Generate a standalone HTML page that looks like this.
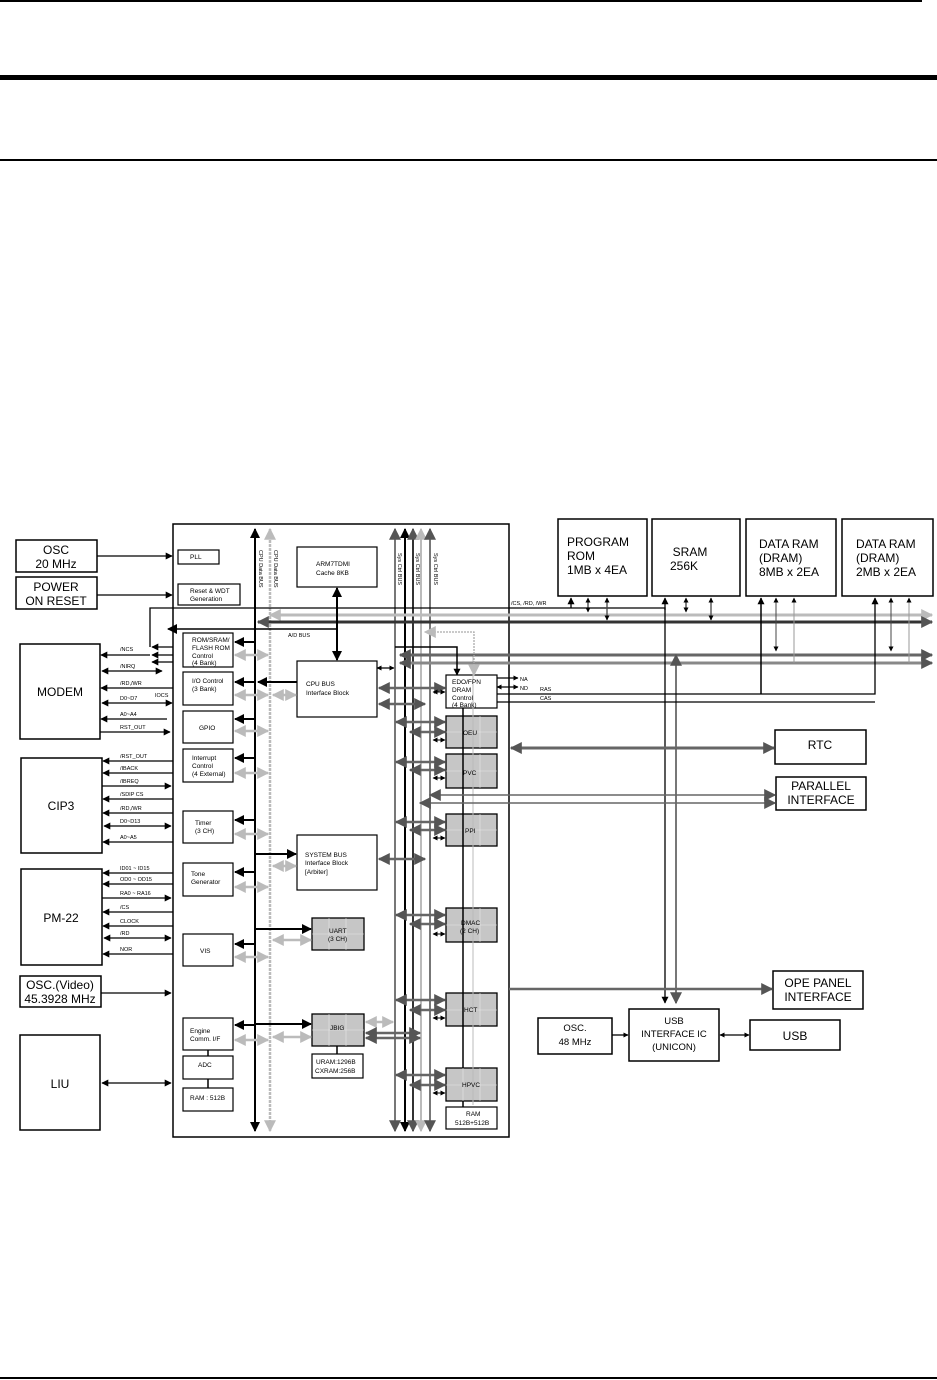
<!DOCTYPE html>
<html><head><meta charset="utf-8"><style>
html,body{margin:0;padding:0;background:#fff}
svg{display:block}
text{font-family:"Liberation Sans",sans-serif}
.b{font-size:12px}
.s{font-size:6.5px}
.m{font-size:5.5px}
</style></head><body>
<svg width="937" height="1380" viewBox="0 0 937 1380" xmlns="http://www.w3.org/2000/svg">
<defs>
<marker id="a" viewBox="0 0 10 10" refX="9" refY="5" markerWidth="7" markerHeight="7" orient="auto-start-reverse" markerUnits="userSpaceOnUse"><path d="M0,0L10,5L0,10z" fill="#000"/></marker>
<marker id="sa" viewBox="0 0 10 10" refX="9" refY="5" markerWidth="5" markerHeight="5" orient="auto-start-reverse" markerUnits="userSpaceOnUse"><path d="M0,0L10,5L0,10z" fill="#000"/></marker>
<marker id="ba" viewBox="0 0 10 10" refX="9" refY="5" markerWidth="10" markerHeight="10" orient="auto-start-reverse" markerUnits="userSpaceOnUse"><path d="M0,0L10,5L0,10z" fill="#000"/></marker>
<marker id="ga" viewBox="0 0 10 10" refX="9" refY="5" markerWidth="12" markerHeight="12" orient="auto-start-reverse" markerUnits="userSpaceOnUse"><path d="M0,0L10,5L0,10z" fill="#555"/></marker>
<marker id="la" viewBox="0 0 10 10" refX="9" refY="5" markerWidth="12" markerHeight="12" orient="auto-start-reverse" markerUnits="userSpaceOnUse"><path d="M0,0L10,5L0,10z" fill="#bbb"/></marker>
</defs>

<rect x="0" y="0" width="922" height="2" fill="#000"/>
<rect x="0" y="75" width="937" height="5" fill="#000"/>
<rect x="0" y="159" width="937" height="2" fill="#000"/>
<rect x="0" y="1377" width="937" height="2" fill="#000"/>

<g fill="none" stroke="#000">
<rect x="16" y="540" width="81" height="32" stroke-width="1.5"/>
<rect x="16" y="577" width="81" height="32" stroke-width="1.5"/>
<rect x="20" y="644" width="80" height="95" stroke-width="1.5"/>
<rect x="21" y="758" width="81" height="95" stroke-width="1.5"/>
<rect x="21" y="869" width="81" height="96" stroke-width="1.5"/>
<rect x="20" y="976" width="81" height="31" stroke-width="1.5"/>
<rect x="20" y="1035" width="80" height="95" stroke-width="1.5"/>
<rect x="173" y="524" width="336" height="613" stroke-width="1.5"/>
<rect x="558" y="519" width="89" height="77" stroke-width="1.5"/>
<rect x="652" y="519" width="88" height="77" stroke-width="1.5"/>
<rect x="746" y="519" width="90" height="77" stroke-width="1.5"/>
<rect x="842" y="519" width="91" height="77" stroke-width="1.5"/>
<rect x="775" y="730" width="91" height="34" stroke-width="1.5"/>
<rect x="776" y="777" width="90" height="33" stroke-width="1.5"/>
<rect x="773" y="971" width="90" height="38" stroke-width="1.5"/>
<rect x="629" y="1009" width="90" height="52" stroke-width="1.5"/>
<rect x="538" y="1018" width="74" height="36" stroke-width="1.5"/>
<rect x="750" y="1020" width="90" height="30" stroke-width="1.5"/>
<rect x="178" y="550" width="41" height="14" stroke-width="1.2"/>
<rect x="178" y="584" width="62" height="21" stroke-width="1.2"/>
<rect x="297" y="547" width="80" height="40" stroke-width="1.2"/>
<rect x="183" y="633" width="50" height="34" stroke-width="1.2"/>
<rect x="183" y="672" width="50" height="33" stroke-width="1.2"/>
<rect x="183" y="711" width="50" height="32" stroke-width="1.2"/>
<rect x="183" y="749" width="50" height="33" stroke-width="1.2"/>
<rect x="183" y="811" width="50" height="32" stroke-width="1.2"/>
<rect x="183" y="863" width="50" height="33" stroke-width="1.2"/>
<rect x="183" y="934" width="50" height="32" stroke-width="1.2"/>
<rect x="183" y="1018" width="50" height="32" stroke-width="1.2"/>
<rect x="183" y="1056" width="50" height="23" stroke-width="1.2"/>
<rect x="183" y="1088" width="50" height="23" stroke-width="1.2"/>
<rect x="297" y="661" width="80" height="56" stroke-width="1.2"/>
<rect x="297" y="835" width="80" height="55" stroke-width="1.2"/>
<rect x="312" y="1054" width="51" height="24" stroke-width="1.2"/>
<rect x="446" y="675" width="51" height="33" stroke-width="1.2"/>
<rect x="446" y="1107" width="51" height="22" stroke-width="1.2"/>
</g>
<g stroke="#000" stroke-width="1.3" fill="#c6c6c6">
<rect x="312" y="918" width="52" height="32"/>
<rect x="312" y="1014" width="52" height="32"/>
<rect x="446" y="716" width="51" height="32"/>
<rect x="446" y="754" width="51" height="34"/>
<rect x="446" y="814" width="51" height="32"/>
<rect x="446" y="908" width="51" height="34"/>
<rect x="446" y="993" width="51" height="33"/>
<rect x="446" y="1068" width="51" height="33"/>
</g>
<g stroke="#e8e8e8" stroke-width="0.6">
<path d="M329 918v32M346 918v32M312 934h52M329 1014v32M346 1014v32M312 1030h52"/>
<path d="M463 716v32M480 716v32M446 732h51M463 754v34M480 754v34M446 771h51M463 814v32M480 814v32M446 830h51M463 908v34M480 908v34M446 925h51M463 993v33M480 993v33M446 1010h51M463 1068v33M480 1068v33M446 1085h51"/>
</g>

<path d="M463 708v360M463 1101v6M337 1046v8M208 1050v6M208 1079v9" stroke="#000" stroke-width="1.5" fill="none"/>
<path d="M473 655v450" stroke="#bbb" stroke-width="1" fill="none"/>

<line x1="255" y1="1131" x2="255" y2="529" stroke="#000" stroke-width="2" marker-end="url(#ba)" marker-start="url(#ba)"/>
<line x1="270" y1="1131" x2="270" y2="529" stroke="#bbb" stroke-width="2.5" stroke-dasharray="3 1" marker-end="url(#la)" marker-start="url(#la)"/>
<line x1="395" y1="1131" x2="395" y2="529" stroke="#777" stroke-width="2" marker-end="url(#ga)" marker-start="url(#ga)"/>
<line x1="405" y1="1131" x2="405" y2="529" stroke="#000" stroke-width="2" marker-end="url(#ba)" marker-start="url(#ba)"/>
<line x1="413" y1="1131" x2="413" y2="529" stroke="#333" stroke-width="2" marker-end="url(#ga)" marker-start="url(#ga)"/>
<line x1="421" y1="1131" x2="421" y2="529" stroke="#bbb" stroke-width="2" marker-end="url(#la)" marker-start="url(#la)"/>
<line x1="430" y1="1131" x2="430" y2="529" stroke="#777" stroke-width="2" marker-end="url(#ga)" marker-start="url(#ga)"/>

<line x1="270" y1="615" x2="932" y2="615" stroke="#bbb" stroke-width="3" marker-end="url(#la)" marker-start="url(#la)"/>
<line x1="258" y1="622" x2="932" y2="622" stroke="#333" stroke-width="3" marker-end="url(#ga)" marker-start="url(#ga)"/>
<line x1="337" y1="629" x2="168" y2="629" stroke="#000" stroke-width="1.5" marker-end="url(#ba)"/>
<line x1="400" y1="655" x2="932" y2="655" stroke="#666" stroke-width="3" marker-end="url(#ga)" marker-start="url(#ga)"/>
<line x1="400" y1="663" x2="932" y2="663" stroke="#888" stroke-width="3" marker-end="url(#ga)" marker-start="url(#ga)"/>
<path d="M150 647V608H665V1003" stroke="#000" stroke-width="1.3" fill="none" marker-end="url(#a)"/>
<line x1="665" y1="610" x2="665" y2="598" stroke="#000" stroke-width="1.3" marker-end="url(#a)"/>
<line x1="676" y1="1003" x2="676" y2="655" stroke="#777" stroke-width="2" marker-start="url(#ga)" marker-end="url(#ga)"/>
<line x1="571" y1="608" x2="571" y2="598" stroke="#000" stroke-width="1.3" marker-end="url(#a)"/>
<line x1="588" y1="612" x2="588" y2="598" stroke="#000" stroke-width="1" marker-end="url(#sa)" marker-start="url(#sa)"/>
<line x1="607" y1="620" x2="607" y2="598" stroke="#444" stroke-width="1.3" marker-end="url(#sa)" marker-start="url(#sa)"/>
<line x1="686" y1="612" x2="686" y2="598" stroke="#000" stroke-width="1" marker-end="url(#sa)" marker-start="url(#sa)"/>
<line x1="711" y1="620" x2="711" y2="598" stroke="#444" stroke-width="1.3" marker-end="url(#sa)" marker-start="url(#sa)"/>
<line x1="776" y1="651" x2="776" y2="598" stroke="#444" stroke-width="1" marker-end="url(#sa)" marker-start="url(#sa)"/>
<line x1="794" y1="663" x2="794" y2="598" stroke="#999" stroke-width="1" marker-end="url(#sa)"/>
<line x1="891" y1="651" x2="891" y2="598" stroke="#444" stroke-width="1" marker-end="url(#sa)" marker-start="url(#sa)"/>
<line x1="909" y1="663" x2="909" y2="598" stroke="#999" stroke-width="1" marker-end="url(#sa)"/>
<path d="M395 647H457V675" stroke="#000" stroke-width="1.5" fill="none" marker-end="url(#a)"/>
<path d="M474 675V632H425" stroke="#aaa" stroke-width="1.3" stroke-dasharray="2 1" fill="none" marker-end="url(#la)" marker-start="url(#la)"/>
<line x1="497" y1="678" x2="518" y2="678" stroke="#000" stroke-width="1.3" marker-end="url(#sa)"/>
<line x1="497" y1="687" x2="518" y2="687" stroke="#000" stroke-width="1.3" marker-end="url(#sa)" marker-start="url(#sa)"/>
<path d="M497 694H875V598" stroke="#000" stroke-width="1.3" fill="none" marker-end="url(#a)"/>
<path d="M497 702H875" stroke="#000" stroke-width="1.3" fill="none"/>
<line x1="761" y1="694" x2="761" y2="598" stroke="#000" stroke-width="1.5" marker-end="url(#a)"/>
<line x1="337" y1="588" x2="337" y2="660" stroke="#000" stroke-width="2" marker-end="url(#ba)" marker-start="url(#ba)"/>
<g stroke="#000" stroke-width="1.3" fill="none">
<line x1="97" y1="556" x2="172" y2="556" marker-end="url(#a)"/>
<line x1="97" y1="595" x2="172" y2="595" marker-end="url(#a)"/>
<line x1="173" y1="647" x2="152" y2="647" marker-end="url(#a)"/>
<line x1="173" y1="655" x2="152" y2="655" marker-end="url(#a)"/>
<line x1="173" y1="662" x2="152" y2="662" marker-end="url(#a)"/>
<line x1="150" y1="655" x2="101" y2="655" marker-end="url(#a)"/>
<line x1="102" y1="671" x2="162" y2="671" marker-end="url(#a)" marker-start="url(#a)"/>
<line x1="173" y1="688" x2="101" y2="688" marker-end="url(#a)"/>
<line x1="102" y1="703" x2="172" y2="703" marker-end="url(#a)" marker-start="url(#a)"/>
<line x1="167" y1="719" x2="101" y2="719" marker-end="url(#a)"/>
<line x1="100" y1="732" x2="170" y2="732" marker-end="url(#a)"/>
<line x1="173" y1="761" x2="103" y2="761" marker-end="url(#a)"/>
<line x1="173" y1="773" x2="103" y2="773" marker-end="url(#a)"/>
<line x1="102" y1="786" x2="171" y2="786" marker-end="url(#a)"/>
<line x1="173" y1="799" x2="103" y2="799" marker-end="url(#a)"/>
<line x1="173" y1="813" x2="103" y2="813" marker-end="url(#a)"/>
<line x1="104" y1="826" x2="171" y2="826" marker-end="url(#a)" marker-start="url(#a)"/>
<line x1="173" y1="842" x2="103" y2="842" marker-end="url(#a)"/>
<line x1="173" y1="873" x2="103" y2="873" marker-end="url(#a)"/>
<line x1="173" y1="884" x2="103" y2="884" marker-end="url(#a)"/>
<line x1="102" y1="898" x2="171" y2="898" marker-end="url(#a)"/>
<line x1="173" y1="912" x2="103" y2="912" marker-end="url(#a)"/>
<line x1="173" y1="926" x2="103" y2="926" marker-end="url(#a)"/>
<line x1="104" y1="938" x2="171" y2="938" marker-end="url(#a)" marker-start="url(#a)"/>
<line x1="173" y1="954" x2="103" y2="954" marker-end="url(#a)"/>
<line x1="101" y1="993" x2="171" y2="993" marker-end="url(#a)"/>
<line x1="102" y1="1083" x2="171" y2="1083" marker-end="url(#a)" marker-start="url(#a)"/>
<line x1="612" y1="1035" x2="628" y2="1035" marker-end="url(#sa)"/>
<line x1="720" y1="1035" x2="749" y2="1035" marker-end="url(#sa)" marker-start="url(#sa)"/>
<line x1="377" y1="668" x2="394" y2="668" marker-end="url(#sa)" marker-start="url(#sa)"/>
</g>
<g stroke="#000" stroke-width="2" fill="none">
<line x1="255" y1="642" x2="235" y2="642" marker-end="url(#ba)"/>
<line x1="255" y1="682" x2="235" y2="682" marker-end="url(#ba)"/>
<line x1="297" y1="682" x2="258" y2="682" marker-end="url(#ba)"/>
<line x1="255" y1="719" x2="235" y2="719" marker-end="url(#ba)"/>
<line x1="255" y1="758" x2="235" y2="758" marker-end="url(#ba)"/>
<line x1="255" y1="820" x2="235" y2="820" marker-end="url(#ba)"/>
<line x1="255" y1="872" x2="235" y2="872" marker-end="url(#ba)"/>
<line x1="255" y1="944" x2="235" y2="944" marker-end="url(#ba)"/>
<line x1="255" y1="1025" x2="235" y2="1025" marker-end="url(#ba)"/>
<line x1="255" y1="854" x2="296" y2="854" marker-end="url(#ba)"/>
<line x1="255" y1="929" x2="311" y2="929" marker-end="url(#ba)"/>
<line x1="255" y1="1024" x2="311" y2="1024" marker-end="url(#ba)"/>
</g>
<g stroke="#bbb" stroke-width="2.5" fill="none">
<line x1="235" y1="655" x2="268" y2="655" marker-end="url(#la)" marker-start="url(#la)"/>
<line x1="235" y1="695" x2="268" y2="695" marker-end="url(#la)" marker-start="url(#la)"/>
<line x1="273" y1="695" x2="296" y2="695" marker-end="url(#la)" marker-start="url(#la)"/>
<line x1="235" y1="731" x2="268" y2="731" marker-end="url(#la)" marker-start="url(#la)"/>
<line x1="235" y1="773" x2="268" y2="773" marker-end="url(#la)" marker-start="url(#la)"/>
<line x1="235" y1="834" x2="268" y2="834" marker-end="url(#la)" marker-start="url(#la)"/>
<line x1="273" y1="866" x2="296" y2="866" marker-end="url(#la)" marker-start="url(#la)"/>
<line x1="235" y1="887" x2="268" y2="887" marker-end="url(#la)" marker-start="url(#la)"/>
<line x1="273" y1="940" x2="311" y2="940" marker-end="url(#la)" marker-start="url(#la)"/>
<line x1="235" y1="957" x2="268" y2="957" marker-end="url(#la)" marker-start="url(#la)"/>
<line x1="235" y1="1040" x2="268" y2="1040" marker-end="url(#la)" marker-start="url(#la)"/>
<line x1="273" y1="1037" x2="311" y2="1037" marker-end="url(#la)" marker-start="url(#la)"/>
<line x1="366" y1="1022" x2="393" y2="1022" marker-end="url(#la)" marker-start="url(#la)"/>
</g>
<g stroke="#666" stroke-width="2.5" fill="none">
<line x1="379" y1="688" x2="445" y2="688" marker-end="url(#ga)" marker-start="url(#ga)"/>
<line x1="379" y1="704" x2="425" y2="704" marker-end="url(#ga)" marker-start="url(#ga)"/>
<line x1="379" y1="859" x2="425" y2="859" marker-end="url(#ga)" marker-start="url(#ga)"/>
<line x1="366" y1="1033" x2="420" y2="1033" marker-end="url(#ga)" marker-start="url(#ga)"/>
<line x1="366" y1="1038" x2="420" y2="1038" marker-end="url(#ga)" marker-start="url(#ga)"/>
<line x1="396" y1="722" x2="445" y2="722" marker-end="url(#ga)" marker-start="url(#ga)"/>
<line x1="410" y1="732" x2="445" y2="732" marker-end="url(#ga)" marker-start="url(#ga)"/>
<line x1="396" y1="762" x2="445" y2="762" marker-end="url(#ga)" marker-start="url(#ga)"/>
<line x1="410" y1="770" x2="445" y2="770" marker-end="url(#ga)" marker-start="url(#ga)"/>
<line x1="396" y1="822" x2="445" y2="822" marker-end="url(#ga)" marker-start="url(#ga)"/>
<line x1="410" y1="830" x2="445" y2="830" marker-end="url(#ga)" marker-start="url(#ga)"/>
<line x1="396" y1="915" x2="445" y2="915" marker-end="url(#ga)" marker-start="url(#ga)"/>
<line x1="410" y1="924" x2="445" y2="924" marker-end="url(#ga)" marker-start="url(#ga)"/>
<line x1="396" y1="1000" x2="445" y2="1000" marker-end="url(#ga)" marker-start="url(#ga)"/>
<line x1="410" y1="1010" x2="445" y2="1010" marker-end="url(#ga)" marker-start="url(#ga)"/>
<line x1="396" y1="1075" x2="445" y2="1075" marker-end="url(#ga)" marker-start="url(#ga)"/>
<line x1="410" y1="1085" x2="445" y2="1085" marker-end="url(#ga)" marker-start="url(#ga)"/>
<line x1="511" y1="748" x2="774" y2="748" stroke-width="3" marker-end="url(#ga)" marker-start="url(#ga)"/>
<line x1="430" y1="795" x2="775" y2="795" stroke-width="1.5" marker-end="url(#ga)" marker-start="url(#ga)"/>
<line x1="420" y1="803" x2="775" y2="803" stroke-width="1.5" marker-end="url(#ga)" marker-start="url(#ga)"/>
<line x1="509" y1="989" x2="772" y2="989" stroke-width="2.5" marker-end="url(#ga)"/>
</g>
<g stroke="#000" stroke-width="1" fill="none">
<line x1="433" y1="692" x2="445" y2="692" marker-end="url(#sa)" marker-start="url(#sa)"/>
<line x1="433" y1="740" x2="445" y2="740" marker-end="url(#sa)" marker-start="url(#sa)"/>
<line x1="433" y1="778" x2="445" y2="778" marker-end="url(#sa)" marker-start="url(#sa)"/>
<line x1="433" y1="838" x2="445" y2="838" marker-end="url(#sa)" marker-start="url(#sa)"/>
<line x1="433" y1="934" x2="445" y2="934" marker-end="url(#sa)" marker-start="url(#sa)"/>
<line x1="433" y1="1018" x2="445" y2="1018" marker-end="url(#sa)" marker-start="url(#sa)"/>
<line x1="433" y1="1093" x2="445" y2="1093" marker-end="url(#sa)" marker-start="url(#sa)"/>
</g>

<g class="b" text-anchor="middle">
<text x="56" y="554">OSC</text><text x="56" y="568">20 MHz</text>
<text x="56" y="591">POWER</text><text x="56" y="605">ON RESET</text>
<text x="60" y="696">MODEM</text>
<text x="61" y="810">CIP3</text>
<text x="61" y="922">PM-22</text>
<text x="60" y="989">OSC.(Video)</text><text x="60" y="1003">45.3928 MHz</text>
<text x="60" y="1088">LIU</text>
<text x="690" y="556">SRAM</text><text x="684" y="570">256K</text>
<text x="820" y="749">RTC</text>
<text x="821" y="790">PARALLEL</text><text x="821" y="804">INTERFACE</text>
<text x="818" y="987">OPE PANEL</text><text x="818" y="1001">INTERFACE</text>
<text x="795" y="1040">USB</text>
</g>
<g class="b">
<text x="567" y="546">PROGRAM</text><text x="567" y="560">ROM</text><text x="567" y="574">1MB x 4EA</text>
<text x="759" y="548">DATA RAM</text><text x="759" y="562">(DRAM)</text><text x="759" y="576">8MB x 2EA</text>
<text x="856" y="548">DATA RAM</text><text x="856" y="562">(DRAM)</text><text x="856" y="576">2MB x 2EA</text>
</g>
<g font-size="9.5" text-anchor="middle">
<text x="575" y="1031">OSC.</text><text x="575" y="1045">48 MHz</text>
<text x="674" y="1024">USB</text><text x="674" y="1037">INTERFACE IC</text><text x="674" y="1050">(UNICON)</text>
</g>
<g class="s">
<text x="190" y="559">PLL</text>
<text x="190" y="593">Reset &amp; WDT</text><text x="190" y="601">Generation</text>
<text x="316" y="566">ARM7TDMI</text><text x="316" y="575">Cache 8KB</text>
<text x="192" y="642">ROM/SRAM/</text><text x="192" y="650">FLASH ROM</text><text x="192" y="658">Control</text><text x="192" y="665">(4 Bank)</text>
<text x="192" y="683">I/O Control</text><text x="192" y="691">(3 Bank)</text>
<text x="199" y="730">GPIO</text>
<text x="192" y="760">Interrupt</text><text x="192" y="768">Control</text><text x="192" y="776">(4 External)</text>
<text x="195" y="825">Timer</text><text x="195" y="833">(3 CH)</text>
<text x="191" y="876">Tone</text><text x="191" y="884">Generator</text>
<text x="200" y="953">VIS</text>
<text x="190" y="1033">Engine</text><text x="190" y="1041">Comm. I/F</text>
<text x="198" y="1067">ADC</text>
<text x="190" y="1100">RAM : 512B</text>
<text x="306" y="686">CPU BUS</text><text x="306" y="695">Interface Block</text>
<text x="305" y="857">SYSTEM BUS</text><text x="305" y="865">Interface Block</text><text x="305" y="874">[Arbiter]</text>
<text x="329" y="933">UART</text><text x="328" y="941">(3 CH)</text>
<text x="330" y="1030">JBIG</text>
<text x="316" y="1064">URAM:1296B</text><text x="315" y="1073">CXRAM:256B</text>
<text x="452" y="684">EDO/FPN</text><text x="452" y="692">DRAM</text><text x="452" y="700">Control</text><text x="452" y="707">(4 Bank)</text>
<text x="463" y="735">OEU</text><text x="463" y="775">PVC</text><text x="465" y="833">PPI</text>
<text x="461" y="925">DMAC</text><text x="460" y="933">(2 CH)</text>
<text x="464" y="1012">HCT</text><text x="462" y="1087">HPVC</text>
<text x="466" y="1116">RAM</text><text x="455" y="1125">512B+512B</text>
</g>
<g class="m">
<text x="120" y="651">/NCS</text><text x="120" y="668">/NIRQ</text><text x="120" y="685">/RD,/WR</text>
<text x="120" y="700">D0~D7</text><text x="155" y="697">IOCS</text><text x="120" y="716">A0~A4</text><text x="120" y="729">RST_OUT</text>
<text x="120" y="758">/RST_OUT</text><text x="120" y="770">/IBACK</text><text x="120" y="783">/IBREQ</text>
<text x="120" y="796">/SDIP CS</text><text x="120" y="810">/RD,/WR</text><text x="120" y="823">D0~D13</text><text x="120" y="839">A0~A5</text>
<text x="120" y="870">ID01 ~ ID15</text><text x="120" y="881">OD0 ~ OD15</text><text x="120" y="895">RA0 ~ RA16</text>
<text x="120" y="909">/CS</text><text x="120" y="923">CLOCK</text><text x="120" y="935">/RD</text><text x="120" y="951">NOR</text>
<text x="288" y="637">A/D BUS</text>
<text x="511" y="605">/CS, /RD, /WR</text>
<text x="520" y="681">NA</text><text x="520" y="690">ND</text><text x="540" y="691">RAS</text><text x="540" y="700">CAS</text>
</g>
<g class="m">
<text transform="translate(259,550) rotate(90)">CPU Data BUS</text>
<text transform="translate(274,550) rotate(90)">CPU Data BUS</text>
<text transform="translate(398,553) rotate(90)">Sys Ctrl BUS</text>
<text transform="translate(416,553) rotate(90)">Sys Ctrl BUS</text>
<text transform="translate(434,553) rotate(90)">Sys Ctrl BUS</text>
</g>
</svg>
</body></html>
